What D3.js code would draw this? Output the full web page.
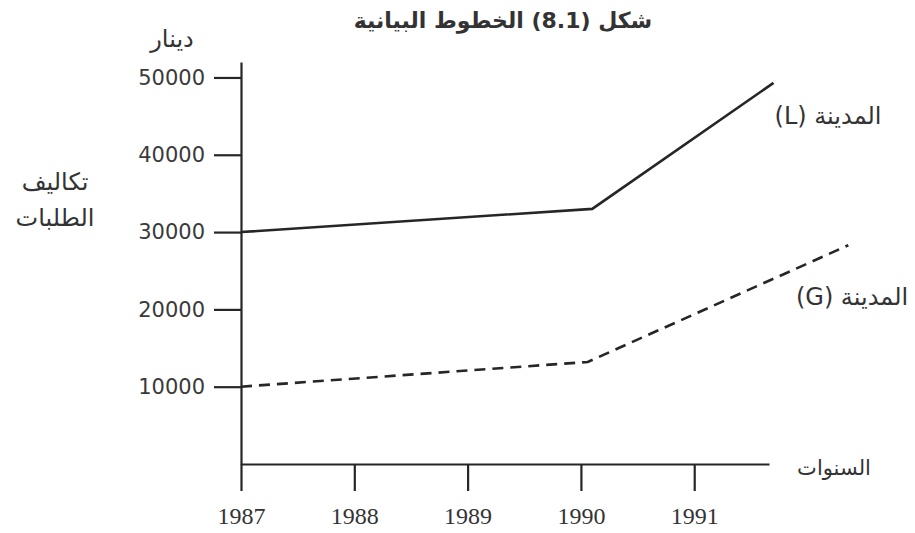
<!DOCTYPE html>
<html>
<head>
<meta charset="utf-8">
<script src="https://cdn.jsdelivr.net/npm/d3@7"></script>
<style>
  body { margin: 0; background: #fff; }
  svg { display: block; }
</style>
</head>
<body>
<script>
const width = 915;
const height = 533;

// data
const yearTicks = [1987, 1988, 1989, 1990, 1991];
const costTicks = [10000, 20000, 30000, 40000, 50000];

const cityLYears = [1987, 1990.1, 1991.7];
const cityLCosts = [30000, 33000, 49300];

const cityGYears = [1987, 1990.06, 1992.36];
const cityGCosts = [10000, 13200, 28300];

const titleText = "شكل (8.1) الخطوط البيانية";
const unitText = "دينار";
const yTitleLines = ["تكاليف", "الطلبات"];
const xTitleText = "السنوات";
const labelL = "المدينة (L)";
const labelG = "المدينة (G)";

const ink = "#262626";
const arabicFont = "'DejaVu Sans', sans-serif";

let svg = d3.select("body").append("svg")
  .attr("width", width)
  .attr("height", height);

svg.append("rect")
  .attr("width", width)
  .attr("height", height)
  .style("fill", "#fff");

let x = d3.scaleLinear()
  .domain([1987, 1991.66])
  .range([241, 769]);
let y = d3.scaleLinear()
  .domain([0, 52000])
  .range([464, 62]);

// y axis
let yAxis = svg.append("g")
  .attr("transform", "translate(" + x(1987) + ",0)")
  .call(d3.axisLeft(y).tickValues(costTicks).tickSize(27).tickSizeOuter(0).tickPadding(9).tickFormat(d3.format("d")));

// x axis
let xAxis = svg.append("g")
  .attr("transform", "translate(0," + y(0) + ")")
  .call(d3.axisBottom(x).tickValues(yearTicks).tickSize(27).tickSizeOuter(0).tickPadding(16).tickFormat(d3.format("d")));

[yAxis, xAxis].forEach(function(g) {
  g.selectAll("path, line")
    .attr("stroke", ink)
    .attr("stroke-width", 2.2);
});
yAxis.selectAll("text")
  .attr("fill", "#3a3a3a")
  .style("font-family", "'DejaVu Sans', sans-serif")
  .style("font-size", "21px");
xAxis.selectAll("text")
  .attr("fill", "#333")
  .style("font-family", "'Liberation Serif', serif")
  .style("font-size", "24px");

// lines
let line = d3.line()
  .x(function(d) { return x(d[0]); })
  .y(function(d) { return y(d[1]); });

svg.append("path")
  .datum(d3.zip(cityLYears, cityLCosts))
  .attr("d", line)
  .attr("fill", "none")
  .attr("stroke", ink)
  .attr("stroke-width", 2.6);

svg.append("path")
  .datum(d3.zip(cityGYears, cityGCosts))
  .attr("d", line)
  .attr("fill", "none")
  .attr("stroke", ink)
  .attr("stroke-width", 2.6)
  .attr("stroke-dasharray", "11,7");

// texts
function arabic(txt, cx, by, size, weight) {
  return svg.append("text")
    .attr("x", cx)
    .attr("y", by)
    .attr("direction", "rtl")
    .attr("text-anchor", "middle")
    .attr("fill", "#333")
    .style("font-family", arabicFont)
    .style("font-size", size + "px")
    .style("font-weight", weight || "normal")
    .text(txt);
}

arabic(titleText, 503, 28, 22, "bold");
arabic(unitText, 172, 47, 24);
arabic(yTitleLines[0], 55, 190, 24);
arabic(yTitleLines[1], 55, 226, 24);
arabic(xTitleText, 834, 475, 21);
arabic(labelL, 828, 124, 24);
arabic(labelG, 852, 305, 24);
</script>
</body>
</html>
